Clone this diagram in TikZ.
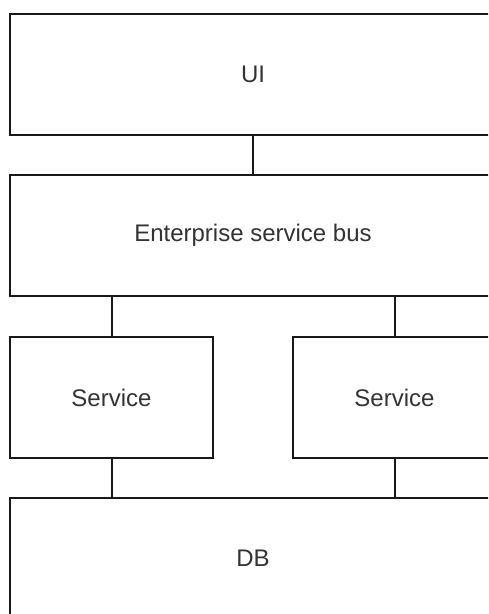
\documentclass[tikz,border=0pt]{standalone}
\usepackage{fontspec}
\setmainfont{Liberation Sans}
\usetikzlibrary{positioning}

\begin{document}
\begin{tikzpicture}[x=1pt,y=-1pt]
\tikzset{layer/.style={draw=black!90,line width=2pt,outer sep=0pt,inner sep=0pt,
  minimum width=486pt,minimum height=121pt,text=black!80,
  font=\fontsize{24}{28}\selectfont}}
\tikzset{svcbox/.style={layer,minimum width=203pt}}
\tikzset{link/.style={draw=black!90,line width=2pt}}
\path[use as bounding box,clip] (0,0) rectangle (488,614);
\fill[white] (0,0) rectangle (488,614);
\node[layer] (ui) at (253,74.5) {UI};
\node[layer,below=40pt of ui] (esb) {Enterprise service bus};
\node[svcbox,below=41pt of esb.south west,anchor=north west] (svca) {Service};
\node[svcbox,right=80pt of svca] (svcb) {Service};
\node[layer,below=40pt of svca.south west,anchor=north west] (db) {DB};
% connectors
\draw[link] (ui) -- (esb);
\draw[link] (svca) -- (svca |- esb.south);
\draw[link] (svcb) -- (svcb |- esb.south);
\draw[link] (svca) -- (svca |- db.north);
\draw[link] (svcb) -- (svcb |- db.north);
\end{tikzpicture}
\end{document}
